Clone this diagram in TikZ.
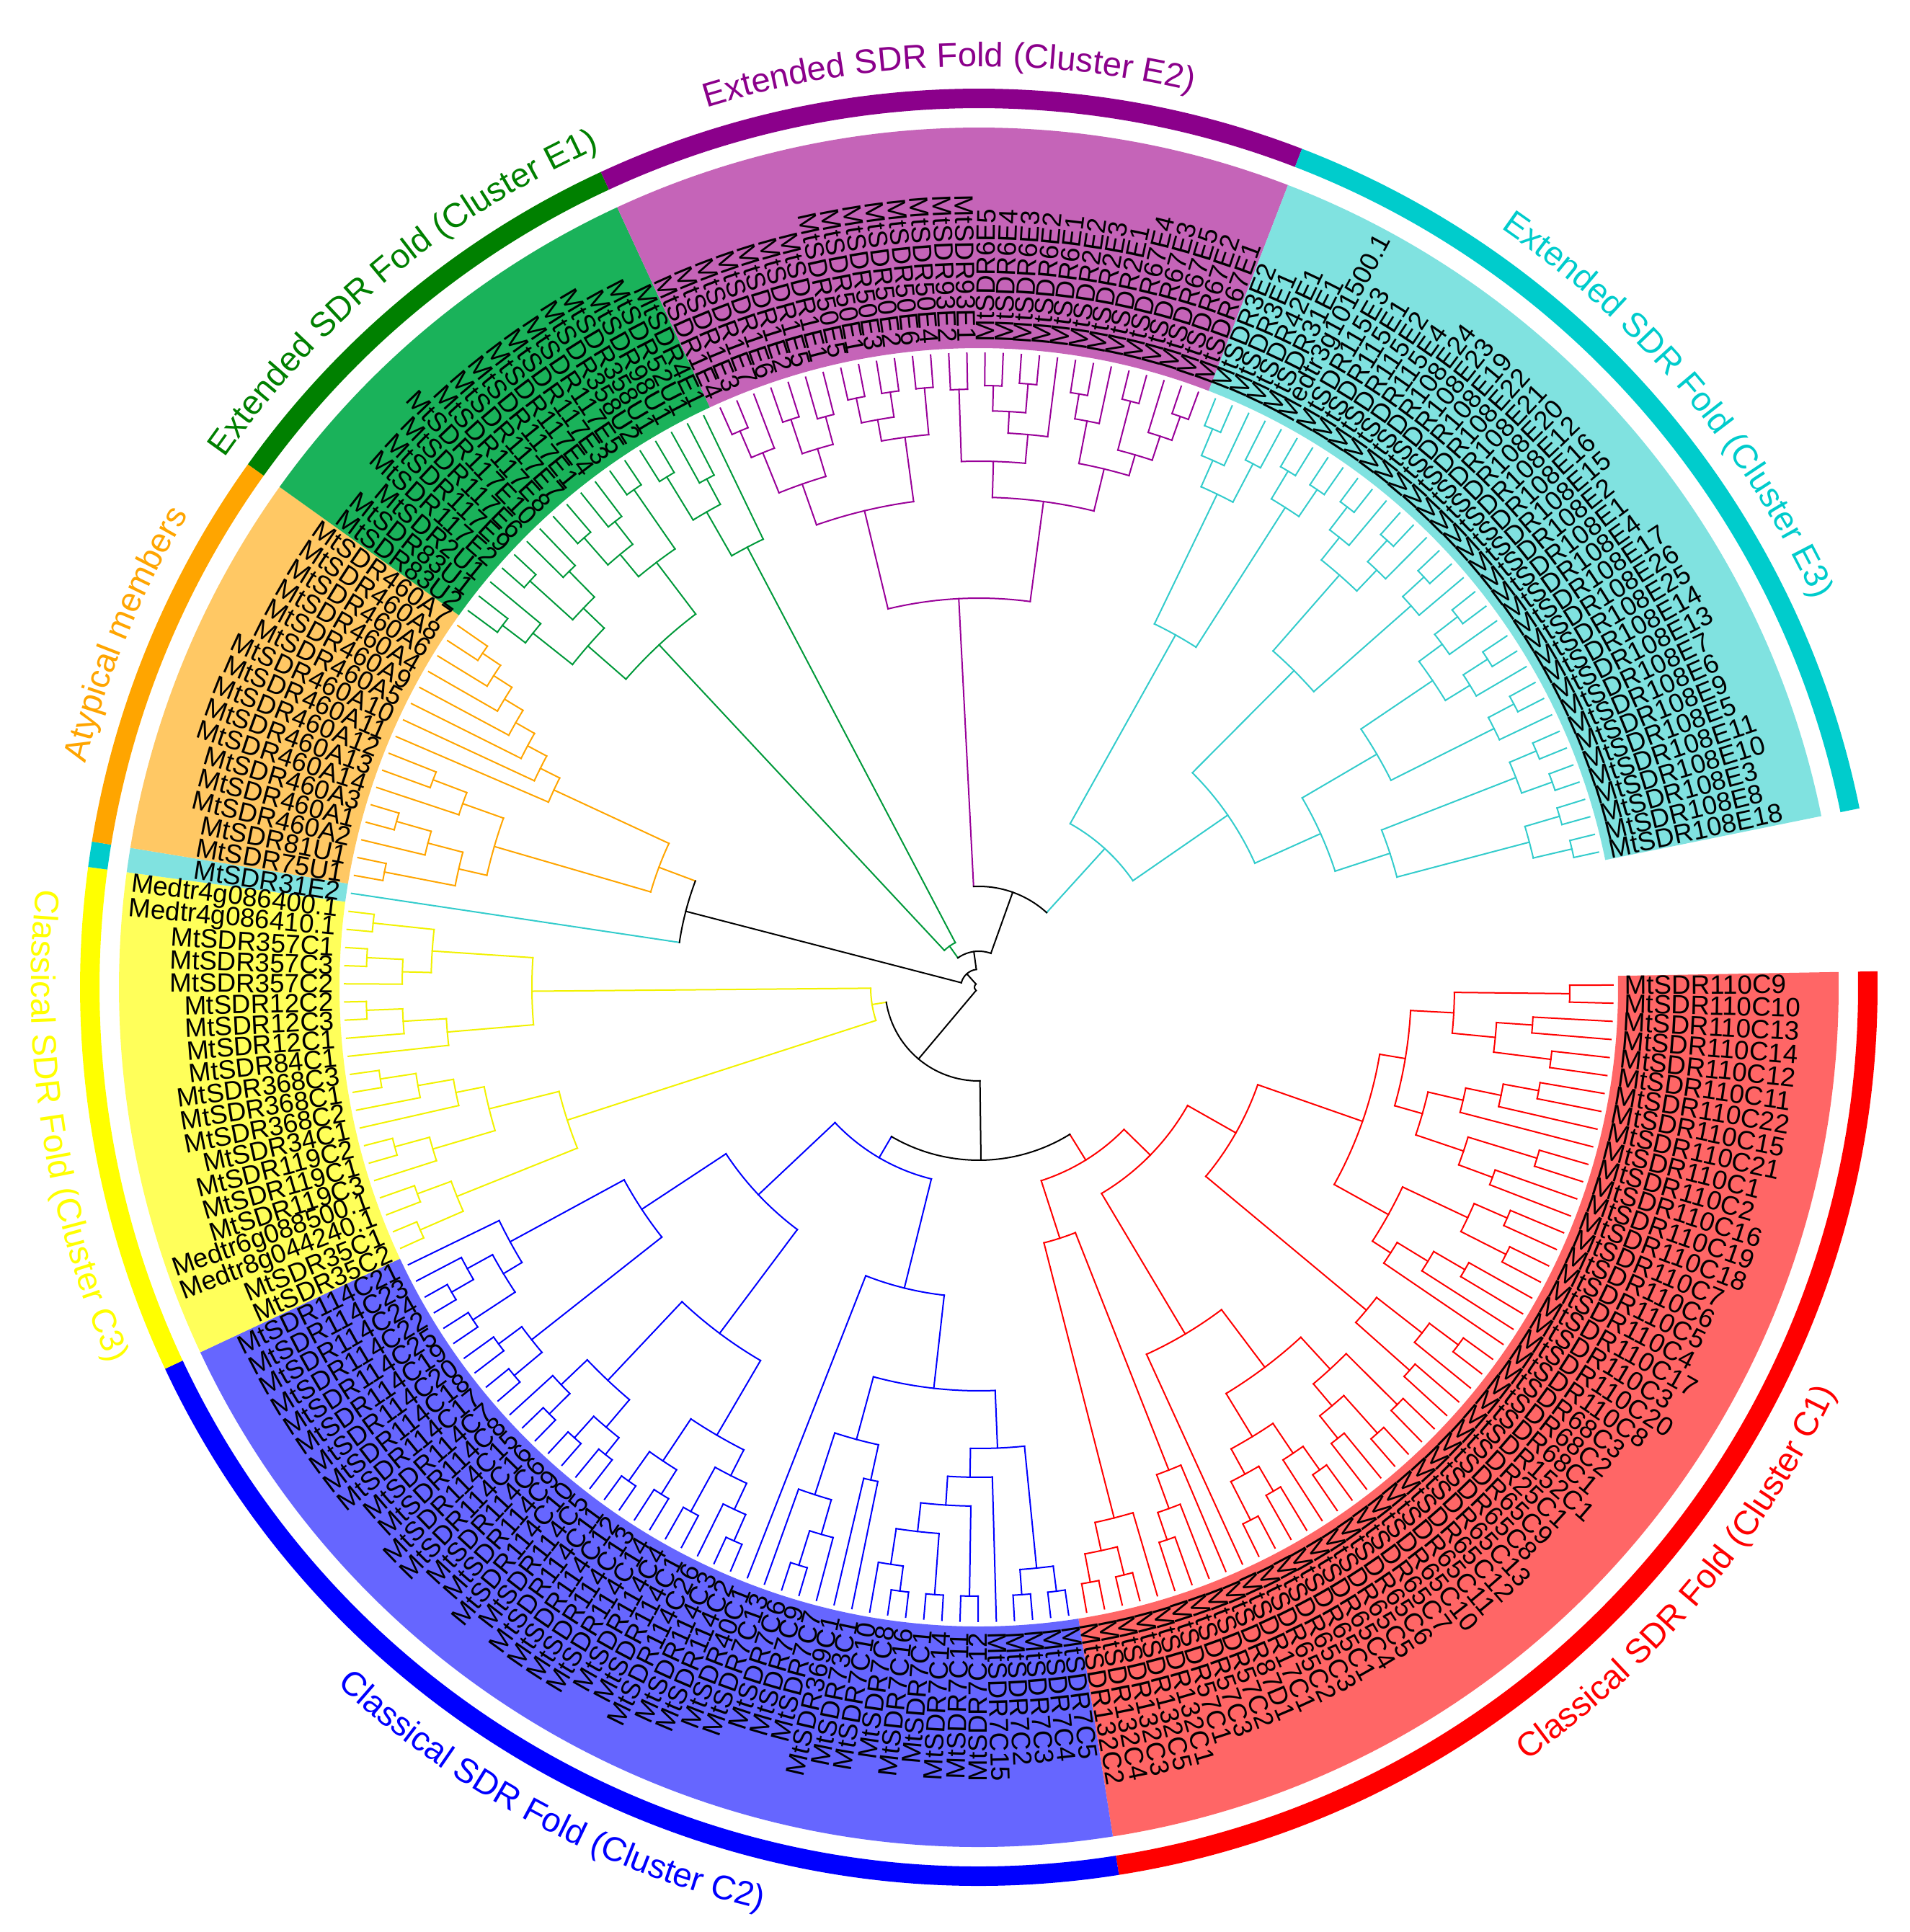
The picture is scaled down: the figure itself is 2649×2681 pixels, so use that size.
\documentclass[tikz,border=0pt]{standalone}
\usepackage{fontspec}
\setmainfont{Liberation Sans}
\usetikzlibrary{decorations.text}
\definecolor{cK}{HTML}{000000}
\definecolor{cR}{HTML}{FF0000}
\definecolor{cB}{HTML}{0000FF}
\definecolor{cY}{HTML}{F2F200}
\definecolor{cC}{HTML}{33CCCC}
\definecolor{cO}{HTML}{FFA500}
\definecolor{cG}{HTML}{00993A}
\definecolor{cP}{HTML}{990099}
\definecolor{wR}{HTML}{FF6666}
\definecolor{wB}{HTML}{6666FF}
\definecolor{wY}{HTML}{FFFF5A}
\definecolor{wC}{HTML}{80E2E0}
\definecolor{wO}{HTML}{FFC864}
\definecolor{wG}{HTML}{1AB25A}
\definecolor{wP}{HTML}{C564B8}
\definecolor{kR}{HTML}{FF0000}
\definecolor{kB}{HTML}{0000FF}
\definecolor{kY}{HTML}{FFFF00}
\definecolor{kC}{HTML}{00CCCC}
\definecolor{kO}{HTML}{FFA500}
\definecolor{kG}{HTML}{008000}
\definecolor{kP}{HTML}{8B008B}
\newcommand\tipr{880}
\newcommand\labr{895}
\newcommand\clabf{\fontsize{11.8}{13}\selectfont}
\tikzset{br/.style={line width=0.5pt, line cap=rect},
  lab/.style={font=\fontsize{9.2}{10}\selectfont, inner sep=0pt, text=black}}
\newcommand\lf[3]{%
  \pgfmathsetmacro\tmpa{0.2-#2*1.641}%
  \expandafter\xdef\csname tA#1\endcsname{\tmpa}%
  \expandafter\xdef\csname tR#1\endcsname{\tipr}%
  \expandafter\xdef\csname tC#1\endcsname{\curcol}%
  \coordinate (#1) at (\tmpa:\tipr);%
  \pgfmathtruncatemacro\lside{cos(\tmpa)>0}%
  \ifnum\lside=1
    \node[lab, anchor=west, rotate=\tmpa] (n#1) at (\tmpa:\labr) {#3};%
  \else
    \pgfmathsetmacro\tmpb{\tmpa+180}%
    \node[lab, anchor=east, rotate=\tmpb] (n#1) at (\tmpa:\labr) {#3};%
  \fi}
\newcommand\nd[5]{%
  \edef\aA{\csname tA#4\endcsname}%
  \edef\cA{\csname tC#4\endcsname}%
  \edef\aB{\csname tA#5\endcsname}%
  \edef\cB{\csname tC#5\endcsname}%
  \pgfmathsetmacro\aM{(\aA+\aB)/2}%
  \expandafter\xdef\csname tA#1\endcsname{\aM}%
  \expandafter\xdef\csname tR#1\endcsname{#2}%
  \expandafter\xdef\csname tC#1\endcsname{#3}%
  \coordinate (#1) at (\aM:#2);%
  \draw[br,\cA] (#4) -- (\aA:#2);%
  \draw[br,\cB] (#5) -- (\aB:#2);%
  \draw[br,#3] (\aA:#2) arc[start angle=\aA, end angle=\aB, radius=#2];}
\newcommand\annsec[5]{%
  \fill[#5] (#1:#3) arc[start angle=#1, end angle=#2, radius=#3] -- (#2:#4) arc[start angle=#2, end angle=#1, radius=#4] -- cycle;}
\begin{document}
\begin{tikzpicture}[x=0.25pt,y=0.25pt]
\useasboundingbox (-1358,-1311) rectangle (1291,1370);
\fill[white] (-1358,-1311) rectangle (1291,1370);
% wedges
\annsec{1.0205}{-81.0295}{887}{1193}{wR}
\annsec{-81.0295}{-154.8745}{887}{1193}{wB}
\annsec{-154.8745}{-187.6945}{887}{1193}{wY}
\annsec{-187.6945}{-189.3355}{887}{1193}{wC}
\annsec{-189.3355}{-215.5915}{887}{1193}{wO}
\annsec{-215.5915}{-245.1295}{887}{1193}{wG}
\annsec{-245.1295}{-291.0775}{887}{1193}{wP}
\annsec{-291.0775}{-348.5125}{887}{1193}{wC}
% rings
\annsec{1.0205}{-81.0295}{1220}{1247}{kR}
\annsec{-81.0295}{-154.8745}{1220}{1247}{kB}
\annsec{-154.8745}{-187.6945}{1220}{1247}{kY}
\annsec{-187.6945}{-189.3355}{1220}{1247}{kC}
\annsec{-189.3355}{-215.5915}{1220}{1247}{kO}
\annsec{-215.5915}{-245.1295}{1220}{1247}{kG}
\annsec{-245.1295}{-291.0775}{1220}{1247}{kP}
\annsec{-291.0775}{-348.5125}{1220}{1247}{kC}
% cluster labels
\path[decorate, decoration={text along path, text align=center, text color=kP, text={|\clabf|Extended SDR Fold (Cluster E2)}}] (-238.1:1278) arc[start angle=-238.1, end angle=-298.1, radius=1278];
\path[decorate, decoration={text along path, text align=center, text color=kG, text={|\clabf|Extended SDR Fold (Cluster E1)}}] (-200.36:1278) arc[start angle=-200.36, end angle=-260.36, radius=1278];
\path[decorate, decoration={text along path, text align=center, text color=kO, text={|\clabf|Atypical members}}] (-172.46:1278) arc[start angle=-172.46, end angle=-232.46, radius=1278];
\path[decorate, decoration={text along path, text align=center, text color=kC, text={|\clabf|Extended SDR Fold (Cluster E3)}}] (-289.8:1278) arc[start angle=-289.8, end angle=-349.8, radius=1278];
\path[decorate, decoration={text along path, text align=center, text color=kY, text={|\clabf|Classical SDR Fold (Cluster C3)}}] (-201.28:1315) arc[start angle=-201.28, end angle=-141.28, radius=1315];
\path[decorate, decoration={text along path, text align=center, text color=kB, text={|\clabf|Classical SDR Fold (Cluster C2)}}] (-147.95:1315) arc[start angle=-147.95, end angle=-87.95, radius=1315];
\path[decorate, decoration={text along path, text align=center, text color=kR, text={|\clabf|Classical SDR Fold (Cluster C1)}}] (-70:1315) arc[start angle=-70, end angle=-10, radius=1315];
% leaves
\def\curcol{cR}
\lf{L0}{0}{MtSDR110C9}
\lf{L1}{1}{MtSDR110C10}
\lf{L2}{2}{MtSDR110C13}
\lf{L3}{3}{MtSDR110C14}
\lf{L4}{4}{MtSDR110C12}
\lf{L5}{5}{MtSDR110C11}
\lf{L6}{6}{MtSDR110C22}
\lf{L7}{7}{MtSDR110C15}
\lf{L8}{8}{MtSDR110C21}
\lf{L9}{9}{MtSDR110C1}
\lf{L10}{10}{MtSDR110C2}
\lf{L11}{11}{MtSDR110C16}
\lf{L12}{12}{MtSDR110C19}
\lf{L13}{13}{MtSDR110C18}
\lf{L14}{14}{MtSDR110C7}
\lf{L15}{15}{MtSDR110C6}
\lf{L16}{16}{MtSDR110C5}
\lf{L17}{17}{MtSDR110C4}
\lf{L18}{18}{MtSDR110C17}
\lf{L19}{19}{MtSDR110C3}
\lf{L20}{20}{MtSDR110C20}
\lf{L21}{21}{MtSDR110C8}
\lf{L22}{22}{MtSDR68C3}
\lf{L23}{23}{MtSDR68C2}
\lf{L24}{24}{MtSDR68C1}
\lf{L25}{25}{MtSDR152C1}
\lf{L26}{26}{MtSDR25C1}
\lf{L27}{27}{MtSDR65C9}
\lf{L28}{28}{MtSDR65C8}
\lf{L29}{29}{MtSDR65C13}
\lf{L30}{30}{MtSDR65C12}
\lf{L31}{31}{MtSDR65C11}
\lf{L32}{32}{MtSDR65C10}
\lf{L33}{33}{MtSDR65C7}
\lf{L34}{34}{MtSDR65C6}
\lf{L35}{35}{MtSDR65C5}
\lf{L36}{36}{MtSDR65C4}
\lf{L37}{37}{MtSDR65C1}
\lf{L38}{38}{MtSDR65C3}
\lf{L39}{39}{MtSDR65C2}
\lf{L40}{40}{MtSDR17C1}
\lf{L41}{41}{MtSDR87D1}
\lf{L42}{42}{MtSDR57C2}
\lf{L43}{43}{MtSDR57C3}
\lf{L44}{44}{MtSDR57C1}
\lf{L45}{45}{MtSDR132C1}
\lf{L46}{46}{MtSDR132C5}
\lf{L47}{47}{MtSDR132C3}
\lf{L48}{48}{MtSDR132C4}
\lf{L49}{49}{MtSDR132C2}
\def\curcol{cB}
\lf{L50}{50}{MtSDR7C5}
\lf{L51}{51}{MtSDR7C4}
\lf{L52}{52}{MtSDR7C3}
\lf{L53}{53}{MtSDR7C2}
\lf{L54}{54}{MtSDR7C15}
\lf{L55}{55}{MtSDR7C12}
\lf{L56}{56}{MtSDR7C11}
\lf{L57}{57}{MtSDR7C14}
\lf{L58}{58}{MtSDR7C1}
\lf{L59}{59}{MtSDR7C16}
\lf{L60}{60}{MtSDR7C8}
\lf{L61}{61}{MtSDR7C10}
\lf{L62}{62}{MtSDR73C1}
\lf{L63}{63}{MtSDR369C1}
\lf{L64}{64}{MtSDR7C7}
\lf{L65}{65}{MtSDR7C9}
\lf{L66}{66}{MtSDR7C6}
\lf{L67}{67}{MtSDR7C13}
\lf{L68}{68}{MtSDR40C1}
\lf{L69}{69}{MtSDR114C2}
\lf{L70}{70}{MtSDR114C3}
\lf{L71}{71}{MtSDR114C26}
\lf{L72}{72}{MtSDR114C1}
\lf{L73}{73}{MtSDR114C4}
\lf{L74}{74}{MtSDR114C14}
\lf{L75}{75}{MtSDR114C13}
\lf{L76}{76}{MtSDR114C12}
\lf{L77}{77}{MtSDR114C11}
\lf{L78}{78}{MtSDR114C5}
\lf{L79}{79}{MtSDR114C10}
\lf{L80}{80}{MtSDR114C9}
\lf{L81}{81}{MtSDR114C6}
\lf{L82}{82}{MtSDR114C16}
\lf{L83}{83}{MtSDR114C15}
\lf{L84}{84}{MtSDR114C8}
\lf{L85}{85}{MtSDR114C7}
\lf{L86}{86}{MtSDR114C17}
\lf{L87}{87}{MtSDR114C18}
\lf{L88}{88}{MtSDR114C20}
\lf{L89}{89}{MtSDR114C19}
\lf{L90}{90}{MtSDR114C25}
\lf{L91}{91}{MtSDR114C22}
\lf{L92}{92}{MtSDR114C24}
\lf{L93}{93}{MtSDR114C23}
\lf{L94}{94}{MtSDR114C21}
\def\curcol{cY}
\lf{L95}{95}{MtSDR35C2}
\lf{L96}{96}{MtSDR35C1}
\lf{L97}{97}{Medtr8g044240.1}
\lf{L98}{98}{Medtr6g088500.1}
\lf{L99}{99}{MtSDR119C3}
\lf{L100}{100}{MtSDR119C1}
\lf{L101}{101}{MtSDR119C2}
\lf{L102}{102}{MtSDR34C1}
\lf{L103}{103}{MtSDR368C2}
\lf{L104}{104}{MtSDR368C1}
\lf{L105}{105}{MtSDR368C3}
\lf{L106}{106}{MtSDR84C1}
\lf{L107}{107}{MtSDR12C1}
\lf{L108}{108}{MtSDR12C3}
\lf{L109}{109}{MtSDR12C2}
\lf{L110}{110}{MtSDR357C2}
\lf{L111}{111}{MtSDR357C3}
\lf{L112}{112}{MtSDR357C1}
\lf{L113}{113}{Medtr4g086410.1}
\lf{L114}{114}{Medtr4g086400.1}
\def\curcol{cC}
\lf{L115}{115}{MtSDR31E2}
\def\curcol{cO}
\lf{L116}{116}{MtSDR75U1}
\lf{L117}{117}{MtSDR81U1}
\lf{L118}{118}{MtSDR460A2}
\lf{L119}{119}{MtSDR460A1}
\lf{L120}{120}{MtSDR460A3}
\lf{L121}{121}{MtSDR460A14}
\lf{L122}{122}{MtSDR460A13}
\lf{L123}{123}{MtSDR460A12}
\lf{L124}{124}{MtSDR460A11}
\lf{L125}{125}{MtSDR460A10}
\lf{L126}{126}{MtSDR460A5}
\lf{L127}{127}{MtSDR460A9}
\lf{L128}{128}{MtSDR460A4}
\lf{L129}{129}{MtSDR460A6}
\lf{L130}{130}{MtSDR460A8}
\lf{L131}{131}{MtSDR460A7}
\def\curcol{cG}
\lf{L132}{132}{MtSDR83U2}
\lf{L133}{133}{MtSDR83U1}
\lf{L134}{134}{MtSDR2U1}
\lf{L135}{135}{MtSDR117E2}
\lf{L136}{136}{MtSDR117E9}
\lf{L137}{137}{MtSDR117E6}
\lf{L138}{138}{MtSDR117E10}
\lf{L139}{139}{MtSDR117E8}
\lf{L140}{140}{MtSDR117E7}
\lf{L141}{141}{MtSDR117E1}
\lf{L142}{142}{MtSDR117E4}
\lf{L143}{143}{MtSDR117E3}
\lf{L144}{144}{MtSDR117E5}
\lf{L145}{145}{MtSDR358U2}
\lf{L146}{146}{MtSDR358U1}
\lf{L147}{147}{MtSDR98U1}
\lf{L148}{148}{MtSDR52U1}
\lf{L149}{149}{MtSDR4E1}
\def\curcol{cP}
\lf{L150}{150}{MtSDR1E4}
\lf{L151}{151}{MtSDR1E3}
\lf{L152}{152}{MtSDR1E7}
\lf{L153}{153}{MtSDR1E6}
\lf{L154}{154}{MtSDR1E2}
\lf{L155}{155}{MtSDR1E5}
\lf{L156}{156}{MtSDR1E1}
\lf{L157}{157}{MtSDR50E5}
\lf{L158}{158}{MtSDR50E1}
\lf{L159}{159}{MtSDR50E3}
\lf{L160}{160}{MtSDR50E2}
\lf{L161}{161}{MtSDR50E6}
\lf{L162}{162}{MtSDR50E4}
\lf{L163}{163}{MtSDR93E2}
\lf{L164}{164}{MtSDR93E1}
\lf{L165}{165}{MtSDR6E5}
\lf{L166}{166}{MtSDR6E4}
\lf{L167}{167}{MtSDR6E3}
\lf{L168}{168}{MtSDR6E2}
\lf{L169}{169}{MtSDR6E1}
\lf{L170}{170}{MtSDR2E2}
\lf{L171}{171}{MtSDR2E3}
\lf{L172}{172}{MtSDR2E1}
\lf{L173}{173}{MtSDR67E4}
\lf{L174}{174}{MtSDR67E3}
\lf{L175}{175}{MtSDR67E5}
\lf{L176}{176}{MtSDR67E2}
\lf{L177}{177}{MtSDR67E1}
\def\curcol{cC}
\lf{L178}{178}{MtSDR3E2}
\lf{L179}{179}{MtSDR3E1}
\lf{L180}{180}{MtSDR42E1}
\lf{L181}{181}{MtSDR31E1}
\lf{L182}{182}{Medtr3g101500.1}
\lf{L183}{183}{MtSDR115E3}
\lf{L184}{184}{MtSDR115E1}
\lf{L185}{185}{MtSDR115E2}
\lf{L186}{186}{MtSDR115E4}
\lf{L187}{187}{MtSDR108E24}
\lf{L188}{188}{MtSDR108E23}
\lf{L189}{189}{MtSDR108E19}
\lf{L190}{190}{MtSDR108E22}
\lf{L191}{191}{MtSDR108E21}
\lf{L192}{192}{MtSDR108E20}
\lf{L193}{193}{MtSDR108E12}
\lf{L194}{194}{MtSDR108E16}
\lf{L195}{195}{MtSDR108E15}
\lf{L196}{196}{MtSDR108E2}
\lf{L197}{197}{MtSDR108E1}
\lf{L198}{198}{MtSDR108E4}
\lf{L199}{199}{MtSDR108E17}
\lf{L200}{200}{MtSDR108E26}
\lf{L201}{201}{MtSDR108E25}
\lf{L202}{202}{MtSDR108E14}
\lf{L203}{203}{MtSDR108E13}
\lf{L204}{204}{MtSDR108E7}
\lf{L205}{205}{MtSDR108E6}
\lf{L206}{206}{MtSDR108E9}
\lf{L207}{207}{MtSDR108E5}
\lf{L208}{208}{MtSDR108E11}
\lf{L209}{209}{MtSDR108E10}
\lf{L210}{210}{MtSDR108E3}
\lf{L211}{211}{MtSDR108E8}
\lf{L212}{212}{MtSDR108E18}
% red clade
\nd{r1}{820}{cR}{L0}{L1}
\nd{r2}{770}{cR}{L2}{L3}
\nd{r3}{800}{cR}{L4}{L5}
\nd{r4}{720}{cR}{r2}{r3}
\nd{r5}{660}{cR}{r1}{r4}
\nd{r6}{790}{cR}{L6}{L7}
\nd{r7}{740}{cR}{r6}{L8}
\nd{r8}{690}{cR}{r7}{L9}
\nd{r9}{810}{cR}{L10}{L11}
\nd{r10}{760}{cR}{L12}{L13}
\nd{r11}{710}{cR}{r9}{r10}
\nd{r12}{640}{cR}{r8}{r11}
\nd{r13}{600}{cR}{r5}{r12}
\nd{r14}{800}{cR}{L14}{L15}
\nd{r15}{820}{cR}{L16}{L17}
\nd{r16}{750}{cR}{r14}{r15}
\nd{r17}{780}{cR}{L18}{L19}
\nd{r18}{730}{cR}{r17}{L20}
\nd{r19}{680}{cR}{r18}{L21}
\nd{r20}{650}{cR}{r16}{r19}
\nd{r21}{564}{cR}{r13}{r20}
\nd{r22}{830}{cR}{L22}{L23}
\nd{r23}{780}{cR}{r22}{L24}
\nd{r24}{800}{cR}{L25}{L26}
\nd{r25}{700}{cR}{r23}{r24}
\nd{r26}{410}{cR}{r21}{r25}
\nd{r27}{820}{cR}{L27}{L28}
\nd{r28}{830}{cR}{L29}{L30}
\nd{r29}{800}{cR}{L31}{L32}
\nd{r30}{760}{cR}{r28}{r29}
\nd{r31}{720}{cR}{r27}{r30}
\nd{r32}{820}{cR}{L33}{L34}
\nd{r33}{780}{cR}{r32}{L35}
\nd{r34}{810}{cR}{L36}{L37}
\nd{r35}{830}{cR}{L38}{L39}
\nd{r36}{770}{cR}{r34}{r35}
\nd{r37}{730}{cR}{r33}{r36}
\nd{r38}{660}{cR}{r31}{r37}
\nd{r39}{560}{cR}{r38}{L40}
\nd{r40}{333}{cR}{r26}{r39}
\nd{r41}{840}{cR}{L48}{L49}
\nd{r42}{840}{cR}{L46}{L47}
\nd{r43}{800}{cR}{r42}{r41}
\nd{r44}{760}{cR}{L45}{r43}
\nd{r45}{810}{cR}{L43}{L44}
\nd{r46}{770}{cR}{L42}{r45}
\nd{r47}{720}{cR}{L41}{r46}
\nd{r48}{366}{cR}{r47}{r44}
\nd{rR}{282}{cR}{r40}{r48}
% blue clade
\nd{b1}{845}{cB}{L50}{L51}
\nd{b2}{845}{cB}{L52}{L53}
\nd{b3}{810}{cB}{b1}{b2}
\nd{b4}{845}{cB}{L55}{L56}
\nd{b5}{845}{cB}{L57}{L58}
\nd{b6}{845}{cB}{L59}{L60}
\nd{b7}{810}{cB}{b6}{L61}
\nd{b8}{760}{cB}{b5}{b7}
\nd{b9}{720}{cB}{b4}{b8}
\nd{b10}{680}{cB}{L54}{b9}
\nd{b11}{640}{cB}{b3}{b10}
\nd{b12}{700}{cB}{L62}{L63}
\nd{b13}{840}{cB}{L65}{L66}
\nd{b14}{790}{cB}{L64}{b13}
\nd{b15}{740}{cB}{b14}{L67}
\nd{b16}{650}{cB}{b12}{b15}
\nd{b17}{560}{cB}{b11}{b16}
\nd{b18}{430}{cB}{b17}{L68}
\nd{b19}{840}{cB}{L69}{L70}
\nd{b20}{800}{cB}{b19}{L71}
\nd{b21}{830}{cB}{L72}{L73}
\nd{b22}{760}{cB}{b20}{b21}
\nd{b23}{830}{cB}{L74}{L75}
\nd{b24}{840}{cB}{L76}{L77}
\nd{b25}{790}{cB}{b23}{b24}
\nd{b26}{720}{cB}{b22}{b25}
\nd{b27}{830}{cB}{L78}{L79}
\nd{b28}{840}{cB}{L80}{L81}
\nd{b29}{800}{cB}{b27}{b28}
\nd{b30}{840}{cB}{L82}{L83}
\nd{b31}{800}{cB}{b30}{L84}
\nd{b32}{750}{cB}{b29}{b31}
\nd{b33}{600}{cB}{b26}{b32}
\nd{b34}{840}{cB}{L85}{L86}
\nd{b35}{830}{cB}{L87}{L88}
\nd{b36}{790}{cB}{b34}{b35}
\nd{b37}{840}{cB}{L89}{L90}
\nd{b38}{845}{cB}{L91}{L92}
\nd{b39}{810}{cB}{b38}{L93}
\nd{b40}{770}{cB}{b37}{b39}
\nd{b41}{740}{cB}{b40}{L94}
\nd{b42}{560}{cB}{b36}{b41}
\nd{b43}{420}{cB}{b33}{b42}
\nd{bR}{274}{cB}{b18}{b43}
\nd{C12}{240}{cK}{rR}{bR}
% yellow clade
\nd{y1}{845}{cY}{L113}{L114}
\nd{y2}{850}{cY}{L111}{L112}
\nd{y3}{800}{cY}{y2}{L110}
\nd{y4}{760}{cY}{y1}{y3}
\nd{y5}{850}{cY}{L108}{L109}
\nd{y6}{800}{cY}{y5}{L107}
\nd{y7}{740}{cY}{y6}{L106}
\nd{y8}{620}{cY}{y4}{y7}
\nd{y9}{840}{cY}{L104}{L105}
\nd{y10}{790}{cY}{L103}{y9}
\nd{y11}{740}{cY}{L102}{y10}
\nd{y12}{840}{cY}{L100}{L101}
\nd{y13}{790}{cY}{L99}{y12}
\nd{y14}{700}{cY}{y11}{y13}
\nd{y15}{830}{cY}{L97}{L98}
\nd{y16}{845}{cY}{L95}{L96}
\nd{y17}{780}{cY}{y15}{y16}
\nd{y18}{600}{cY}{y14}{y17}
\nd{yR}{150}{cY}{y8}{y18}
\nd{CY}{130}{cK}{yR}{C12}
% orange clade
\nd{o1}{830}{cO}{L130}{L131}
\nd{o2}{800}{cO}{o1}{L129}
\nd{o3}{770}{cO}{o2}{L128}
\nd{o4}{740}{cO}{o3}{L127}
\nd{o5}{710}{cO}{o4}{L126}
\nd{o6}{680}{cO}{o5}{L125}
\nd{o7}{650}{cO}{o6}{L124}
\nd{o8}{810}{cO}{L122}{L123}
\nd{o9}{760}{cO}{o8}{L121}
\nd{o10}{840}{cO}{L119}{L120}
\nd{o11}{790}{cO}{L118}{o10}
\nd{o12}{840}{cO}{L116}{L117}
\nd{o13}{740}{cO}{o11}{o12}
\nd{o14}{700}{cO}{o9}{o13}
\nd{oR}{474}{cO}{o7}{o14}
\nd{X}{420}{cK}{L115}{oR}
% green clade
\nd{g1}{830}{cG}{L132}{L133}
\nd{g2}{790}{cG}{g1}{L134}
\nd{g3}{840}{cG}{L135}{L136}
\nd{g4}{810}{cG}{L137}{L138}
\nd{g5}{760}{cG}{g3}{g4}
\nd{g6}{720}{cG}{g2}{g5}
\nd{g7}{830}{cG}{L139}{L140}
\nd{g8}{820}{cG}{L141}{L142}
\nd{g9}{780}{cG}{g7}{g8}
\nd{g10}{840}{cG}{L143}{L144}
\nd{g11}{740}{cG}{g9}{g10}
\nd{g12}{650}{cG}{g6}{g11}
\nd{g13}{830}{cG}{L145}{L146}
\nd{g14}{800}{cG}{L147}{L148}
\nd{g15}{760}{cG}{g13}{g14}
\nd{g16}{690}{cG}{g15}{L149}
\nd{gR}{70}{cG}{g12}{g16}
% purple clade
\nd{p1}{840}{cP}{L150}{L151}
\nd{p2}{800}{cP}{p1}{L152}
\nd{p3}{830}{cP}{L153}{L154}
\nd{p4}{820}{cP}{L155}{L156}
\nd{p5}{780}{cP}{p3}{p4}
\nd{p6}{740}{cP}{p2}{p5}
\nd{p7}{835}{cP}{L157}{L158}
\nd{p8}{835}{cP}{L159}{L160}
\nd{p9}{800}{cP}{p7}{p8}
\nd{p10}{835}{cP}{L161}{L162}
\nd{p11}{770}{cP}{p9}{p10}
\nd{p12}{680}{cP}{p6}{p11}
\nd{p13}{830}{cP}{L163}{L164}
\nd{p14}{835}{cP}{L165}{L166}
\nd{p15}{840}{cP}{L167}{L168}
\nd{p16}{800}{cP}{p14}{p15}
\nd{p17}{770}{cP}{p16}{L169}
\nd{p18}{730}{cP}{p13}{p17}
\nd{p19}{835}{cP}{L170}{L171}
\nd{p20}{800}{cP}{p19}{L172}
\nd{p21}{840}{cP}{L173}{L174}
\nd{p22}{840}{cP}{L176}{L177}
\nd{p23}{805}{cP}{L175}{p22}
\nd{p24}{770}{cP}{p21}{p23}
\nd{p25}{740}{cP}{p20}{p24}
\nd{p26}{680}{cP}{p18}{p25}
\nd{pR}{540}{cP}{p12}{p26}
% cyan clade
\nd{q1}{840}{cC}{L178}{L179}
\nd{q2}{800}{cC}{q1}{L180}
\nd{q3}{820}{cC}{L181}{L182}
\nd{q4}{760}{cC}{q2}{q3}
\nd{q5}{835}{cC}{L183}{L184}
\nd{q6}{835}{cC}{L185}{L186}
\nd{q7}{790}{cC}{q5}{q6}
\nd{q8}{560}{cC}{q4}{q7}
\nd{q9}{840}{cC}{L187}{L188}
\nd{q10}{800}{cC}{q9}{L189}
\nd{q11}{840}{cC}{L190}{L191}
\nd{q12}{800}{cC}{q11}{L192}
\nd{q13}{760}{cC}{q10}{q12}
\nd{q14}{840}{cC}{L193}{L194}
\nd{q15}{800}{cC}{q14}{L195}
\nd{q16}{620}{cC}{q13}{q15}
\nd{q17}{840}{cC}{L196}{L197}
\nd{q18}{800}{cC}{q17}{L198}
\nd{q19}{840}{cC}{L199}{L200}
\nd{q20}{800}{cC}{q19}{L201}
\nd{q21}{760}{cC}{q18}{q20}
\nd{q22}{840}{cC}{L202}{L203}
\nd{q23}{800}{cC}{q22}{L204}
\nd{q24}{640}{cC}{q21}{q23}
\nd{q25}{840}{cC}{L205}{L206}
\nd{q26}{845}{cC}{L207}{L208}
\nd{q27}{800}{cC}{q25}{q26}
\nd{q28}{840}{cC}{L209}{L210}
\nd{q29}{845}{cC}{L211}{L212}
\nd{q30}{790}{cC}{q28}{q29}
\nd{q31}{600}{cC}{q27}{q30}
\nd{q32}{520}{cC}{q24}{q31}
\nd{q33}{420}{cC}{q16}{q32}
\nd{qR}{260}{cC}{q8}{q33}
% backbone
\nd{D1}{140}{cK}{pR}{qR}
\nd{D2}{50}{cK}{gR}{D1}
\nd{D3}{25}{cK}{X}{D2}
\nd{RT}{6}{cK}{D3}{CY}
\end{tikzpicture}
\end{document}
